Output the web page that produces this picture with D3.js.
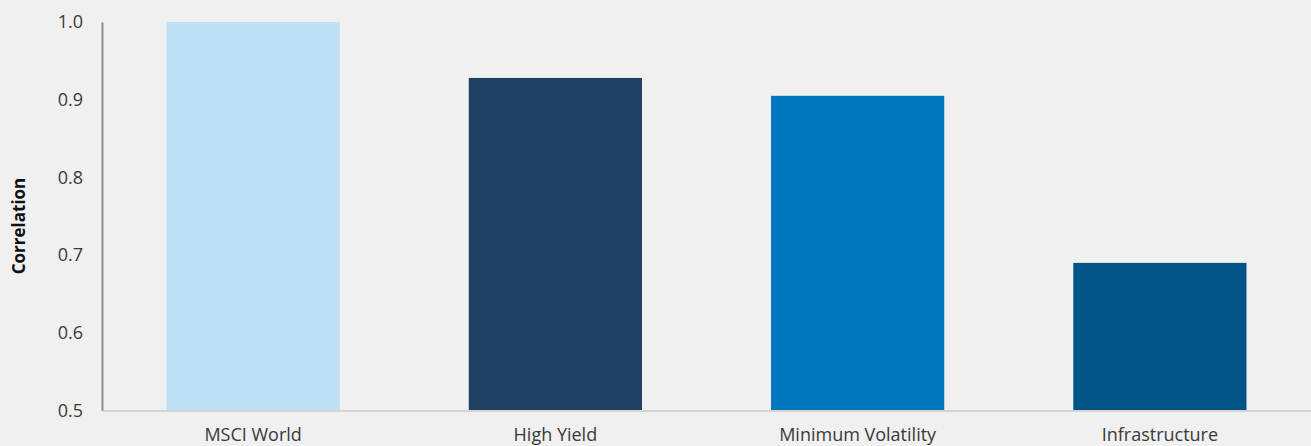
<!DOCTYPE html>
<html>
<head>
  <meta charset="UTF-8">
  <title></title>
  <script src="https://cdn.jsdelivr.net/npm/d3@7"></script>
  <style>
    html, body { margin: 0; padding: 0; background: #f0f0f0; }
    svg { display: block; }
    text { font-family: "Open Sans", "Noto Sans", sans-serif; }
  </style>
</head>
<body>
<div id="chart"></div>
<script>
  var categories = ['MSCI World', 'High Yield', 'Minimum Volatility', 'Infrastructure'];
  var values = [1.0, 0.928, 0.905, 0.69];
  var colors = ['#bde0f6', '#1f4063', '#0075c0', '#025488'];
  var yTicks = [0.5, 0.6, 0.7, 0.8, 0.9, 1.0];

  var w = 1311, h = 446;
  var mLeft = 102, mRight = 1311, mTop = 22, mBottom = 410.5;

  var svg = d3.select('#chart').append('svg')
      .attr('width', w)
      .attr('height', h);

  svg.append('rect').attr('width', w).attr('height', h).attr('fill', '#f0f0f0');

  var x = d3.scaleBand()
      .domain(categories)
      .range([mLeft, mRight])
      .paddingInner(0.427)
      .paddingOuter(0.2135);

  var y = d3.scaleLinear()
      .domain([0.5, 1.0])
      .range([mBottom, mTop]);

  svg.selectAll('rect.bar')
      .data(categories)
      .enter().append('rect')
      .attr('class', 'bar')
      .attr('x', function(d) { return x(d); })
      .attr('width', x.bandwidth())
      .attr('y', function(d, i) { return y(values[i]); })
      .attr('height', function(d, i) { return y(0.5) - y(values[i]); })
      .attr('fill', function(d, i) { return colors[i]; });

  // y axis
  var yAxis = svg.append('g')
      .attr('transform', 'translate(' + mLeft + ',0)')
      .call(d3.axisLeft(y).tickValues(yTicks).tickFormat(d3.format('.1f')).tickSize(0).tickPadding(19));
  yAxis.select('.domain').attr('stroke', '#8c8c8c').attr('stroke-width', 2);
  yAxis.selectAll('text').attr('font-size', 18).attr('fill', '#3a3a3a')
      .attr('font-family', '"Open Sans", "Noto Sans", sans-serif');

  // x axis
  var xAxis = svg.append('g')
      .attr('transform', 'translate(0,' + mBottom + ')')
      .call(d3.axisBottom(x).tickSize(0).tickPadding(18));
  xAxis.select('.domain').attr('stroke', '#d4d4d4').attr('stroke-width', 2);
  xAxis.selectAll('text').attr('font-size', 18).attr('fill', '#3a3a3a')
      .attr('font-family', '"Open Sans", "Noto Sans", sans-serif');

  svg.append('text')
      .attr('transform', 'translate(25,226) rotate(-90)')
      .attr('text-anchor', 'middle')
      .attr('font-size', 17)
      .attr('font-weight', 'bold')
      .attr('fill', '#111')
      .text('Correlation');
</script>
</body>
</html>
